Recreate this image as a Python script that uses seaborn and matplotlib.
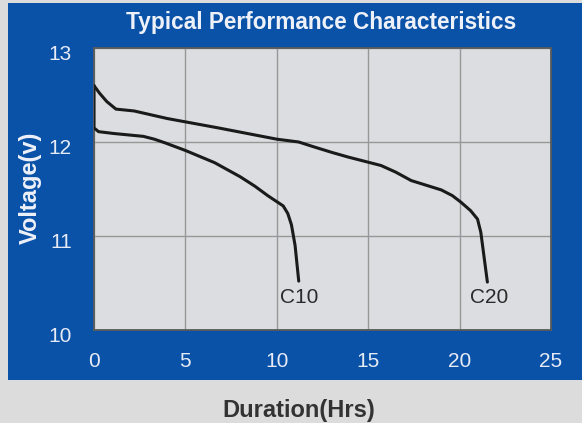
import matplotlib
matplotlib.use("Agg")
import matplotlib.pyplot as plt
import matplotlib.transforms as mtransforms
from matplotlib.patches import Rectangle
import seaborn as sns
import pandas as pd

# ---- data ----
c20_t = [0, 0.3, 0.7, 1.2, 2.2, 4.0, 6.8, 10.0, 11.2, 12.0, 13.0, 13.9, 15.7, 16.5, 17.35, 19.0, 19.6, 20.07, 20.6, 20.98, 21.16, 21.35, 21.52]
c20_v = [12.6, 12.52, 12.43, 12.35, 12.33, 12.25, 12.15, 12.03, 12.0, 11.95, 11.89, 11.84, 11.75, 11.68, 11.59, 11.49, 11.43, 11.36, 11.27, 11.18, 11.04, 10.76, 10.51]
c10_t = [0, 0.0, 0.25, 1.1, 2.7, 3.3, 3.9, 5.0, 6.6, 8.0, 8.8, 9.5, 10.35, 10.6, 10.8, 11.0, 11.2]
c10_v = [12.6, 12.15, 12.11, 12.09, 12.06, 12.03, 11.99, 11.91, 11.78, 11.63, 11.53, 11.43, 11.32, 11.24, 11.12, 10.9, 10.52]
labels = ["C10", "C20"]
label_t = [11.25, 21.6]
label_v = [10.35, 10.35]
x_ticks = [0, 5, 10, 15, 20, 25]
y_ticks = [10, 11, 12, 13]

title = "Typical Performance Characteristics"
xlabel = "Duration(Hrs)"
ylabel = "Voltage(v)"

W, H = 582, 423
sns.set_theme(style="white")
plt.rcParams['font.family'] = ['Liberation Sans', 'DejaVu Sans']

fig = plt.figure(figsize=(W / 100, H / 100), dpi=100)
fig.patch.set_facecolor("#dcdcdc")

blue = "#0a52a8"
fig.patches.append(Rectangle((8 / W, 1 - 380 / H), 1.0, (380 - 3) / H,
                             transform=fig.transFigure, facecolor=blue,
                             edgecolor="none", zorder=-10))

ax = fig.add_axes([94 / W, 1 - 330 / H, (551 - 94) / W, (330 - 48) / H])
ax.set_zorder(5)
ax.set_facecolor("#dcdde0")

df20 = pd.DataFrame({"t": c20_t, "v": c20_v})
df10 = pd.DataFrame({"t": c10_t, "v": c10_v})
sns.lineplot(data=df20, x="t", y="v", sort=False, estimator=None, ax=ax,
             color="#1a1a1a", lw=2.2, zorder=3)
sns.lineplot(data=df10, x="t", y="v", sort=False, estimator=None, ax=ax,
             color="#1a1a1a", lw=2.2, zorder=3)
for line in ax.get_lines():
    line.set_solid_joinstyle("round")
    line.set_solid_capstyle("round")

for lab, tx, ty in zip(labels, label_t, label_v):
    ax.text(tx, ty, lab, ha="center", va="center", fontsize=15,
            color="#2a2a2a", zorder=4)

ax.set_xlim(0, 25)
ax.set_ylim(10, 13)
ax.set_xticks(x_ticks)
ax.set_yticks(y_ticks)
ax.grid(True, color="#979797", lw=1.0)
ax.set_axisbelow(True)
for s in ax.spines.values():
    s.set_color("#5a5a5a")
    s.set_linewidth(1.3)

ax.tick_params(axis="both", labelcolor="#e6ebf5", labelsize=15, length=2,
               width=1, color="#444444")
ax.tick_params(axis="x", pad=14)
ax.tick_params(axis="y", pad=14)
offset = mtransforms.ScaledTranslation(0, -5 / 100, fig.dpi_scale_trans)
for lbl in ax.get_yticklabels():
    lbl.set_transform(lbl.get_transform() + offset)

ax.set_xlabel("")
ax.set_ylabel("")
fig.text(321 / W, 1 - 22 / H, title, ha="center", va="center",
         fontsize=16.3, fontweight="bold", color="#eef1f8")
fig.text(30 / W, 1 - 188 / H, ylabel, ha="center", va="center",
         rotation=90, fontsize=17, fontweight="bold", color="#eef1f8")
fig.text(299 / W, 1 - 410 / H, xlabel, ha="center", va="center",
         fontsize=17, fontweight="bold", color="#333333")

fig.savefig("out.png", dpi=100, facecolor=fig.get_facecolor())
